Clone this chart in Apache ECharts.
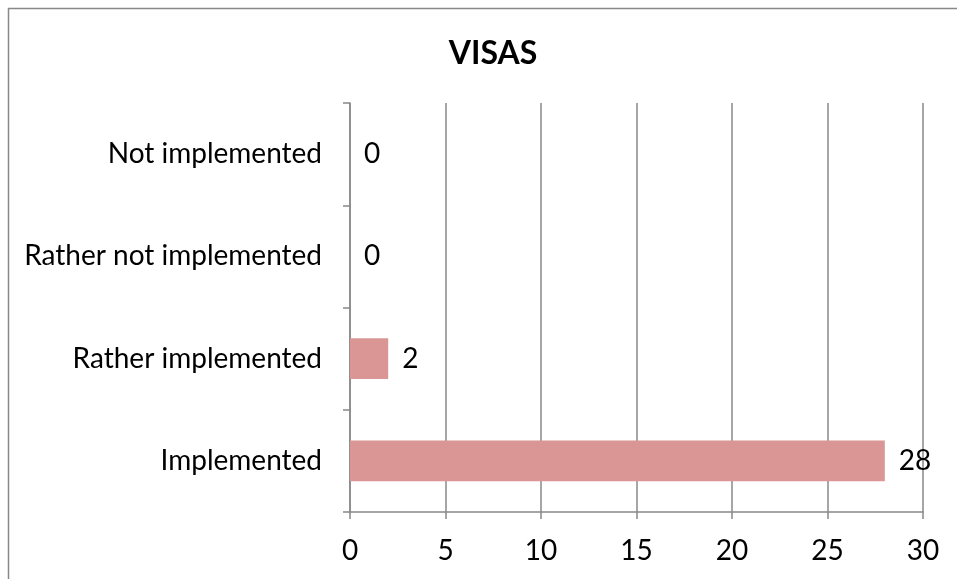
<!DOCTYPE html>
<html>
<head>
<meta charset="utf-8">
<script src="https://cdn.jsdelivr.net/npm/echarts@6/dist/echarts.min.js"></script>
<style>
html,body{margin:0;padding:0;background:#fff;}
#main{width:957px;height:579px;}
</style>
</head>
<body>
<div id="main"></div>
<script>
const titleText = 'VISAS';
const categories = ['Implemented', 'Rather implemented', 'Rather not implemented', 'Not implemented'];
const values = [28, 2, 0, 0];
const xTicks = { min: 0, max: 30, interval: 5 };

const FONT = 'Lato';
const chart = echarts.init(document.getElementById('main'), null, { renderer: 'canvas' });
chart.setOption({
  animation: false,
  backgroundColor: '#fff',
  title: {
    text: titleText,
    left: 488, top: 33, textAlign: 'center',
    textStyle: { fontFamily: FONT, fontSize: 32, fontWeight: 'bold', color: '#000' }
  },
  graphic: [{
    type: 'rect', shape: { x: 8.5, y: 8.5, width: 1000, height: 1000 },
    style: { fill: 'none', stroke: '#888', lineWidth: 1.5 }, silent: true, z: -1
  }],
  grid: { left: 350, right: 34, top: 103, bottom: 67, containLabel: false },
  xAxis: {
    type: 'value', min: xTicks.min, max: xTicks.max, interval: xTicks.interval,
    axisLine: { show: true, lineStyle: { color: '#888', width: 1.5 } },
    axisTick: { show: true, length: 7, lineStyle: { color: '#888', width: 1.5 } },
    splitLine: { show: true, lineStyle: { color: '#888', width: 1.5 } },
    axisLabel: { margin: 25, fontFamily: FONT, fontSize: 28, color: '#000' }
  },
  yAxis: {
    type: 'category', data: categories,
    axisLine: { show: true, lineStyle: { color: '#888', width: 1.5 } },
    axisTick: { show: true, length: 7, lineStyle: { color: '#888', width: 1.5 } },
    splitLine: { show: false },
    axisLabel: { margin: 28, fontFamily: FONT, fontSize: 28, color: '#000' }
  },
  series: [{
    type: 'bar', data: values, barWidth: '40%',
    itemStyle: { color: '#d99694' },
    label: { show: true, position: 'right', distance: 14, fontFamily: FONT, fontSize: 28, color: '#000' }
  }]
});
</script>
</body>
</html>
